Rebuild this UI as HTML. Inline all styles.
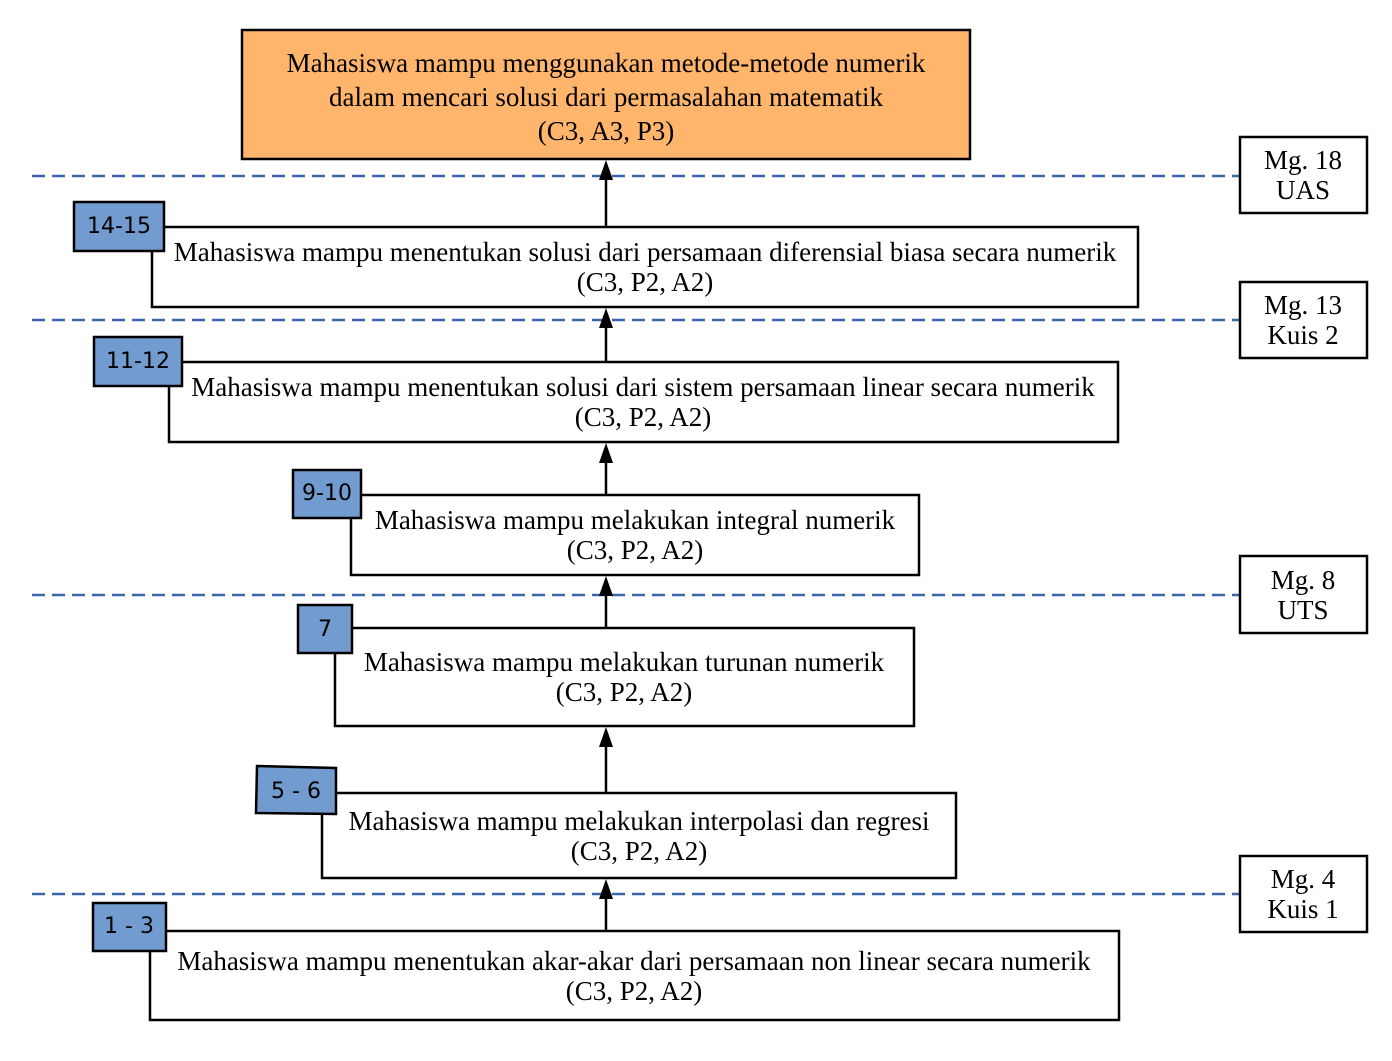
<!DOCTYPE html>
<html><head><meta charset="utf-8"><style>body{margin:0;background:#fff}</style></head><body>
<svg width="1392" height="1056" viewBox="0 0 1392 1056" xmlns="http://www.w3.org/2000/svg">
<g stroke="#3a67a8" stroke-width="2.5" stroke-dasharray="13,7">
<line x1="32" y1="176" x2="1240" y2="176"/><line x1="32" y1="320" x2="1240" y2="320"/>
<line x1="32" y1="595" x2="1240" y2="595"/><line x1="32" y1="894" x2="1240" y2="894"/>
</g>
<g stroke="#000" stroke-width="2.5">
<line x1="606" y1="227" x2="606" y2="175"/><line x1="606" y1="362" x2="606" y2="323"/>
<line x1="606" y1="495" x2="606" y2="458"/><line x1="606" y1="628" x2="606" y2="591"/>
<line x1="606" y1="793" x2="606" y2="742"/><line x1="606" y1="931" x2="606" y2="894"/>
</g>
<g fill="#000">
<path d="M599,180 L613,180 L606,160Z"/><path d="M599,328 L613,328 L606,308Z"/>
<path d="M599,463 L613,463 L606,443Z"/><path d="M599,596 L613,596 L606,576Z"/>
<path d="M599,747 L613,747 L606,727Z"/><path d="M599,899 L613,899 L606,879Z"/>
</g>
<g stroke="#000" stroke-width="2.5" fill="#fff">
<rect x="242" y="30" width="728" height="129" fill="#ffb56b"/>
<rect x="152" y="227" width="986" height="80"/>
<rect x="169" y="362" width="949" height="80"/>
<rect x="351" y="495" width="568" height="80"/>
<rect x="335" y="628" width="579" height="98"/>
<rect x="322" y="793" width="634" height="85"/>
<rect x="150" y="931" width="969" height="89"/>
<rect x="1240" y="137" width="127" height="76"/>
<rect x="1240" y="282" width="127" height="76"/>
<rect x="1240" y="556" width="127" height="77"/>
<rect x="1240" y="856" width="127" height="76"/>
</g>
<g stroke="#000" stroke-width="2.5" fill="#729ccf">
<rect x="74" y="202" width="90" height="49"/>
<rect x="94" y="337" width="88" height="49"/>
<rect x="293" y="470" width="68" height="48"/>
<rect x="298" y="605" width="54" height="48"/>
<path d="M257,766 L336,768 L336,814 L256,813Z"/>
<rect x="93" y="903" width="73" height="48"/>
</g>
<g font-family="Liberation Serif, serif" font-size="27" text-anchor="middle" fill="#000">
<text x="606" y="72">Mahasiswa mampu menggunakan metode-metode numerik</text>
<text x="606" y="106">dalam mencari solusi dari permasalahan matematik</text>
<text x="606" y="140">(C3, A3, P3)</text>
<text x="645" y="261">Mahasiswa mampu menentukan solusi dari persamaan diferensial biasa secara numerik</text>
<text x="645" y="291">(C3, P2, A2)</text>
<text x="643" y="396">Mahasiswa mampu menentukan solusi dari sistem persamaan linear secara numerik</text>
<text x="643" y="426">(C3, P2, A2)</text>
<text x="635" y="529">Mahasiswa mampu melakukan integral numerik</text>
<text x="635" y="559">(C3, P2, A2)</text>
<text x="624" y="671">Mahasiswa mampu melakukan turunan numerik</text>
<text x="624" y="701">(C3, P2, A2)</text>
<text x="639" y="830">Mahasiswa mampu melakukan interpolasi dan regresi</text>
<text x="639" y="860">(C3, P2, A2)</text>
<text x="634" y="970">Mahasiswa mampu menentukan akar-akar dari persamaan non linear secara numerik</text>
<text x="634" y="1000">(C3, P2, A2)</text>
<text x="1303" y="169">Mg. 18</text><text x="1303" y="199">UAS</text>
<text x="1303" y="314">Mg. 13</text><text x="1303" y="344">Kuis 2</text>
<text x="1303" y="589">Mg. 8</text><text x="1303" y="619">UTS</text>
<text x="1303" y="888">Mg. 4</text><text x="1303" y="918">Kuis 1</text>
</g>
<g font-family="DejaVu Sans, Liberation Sans, sans-serif" font-size="22" text-anchor="middle" fill="#000">
<text x="119" y="233">14-15</text>
<text x="138" y="368">11-12</text>
<text x="327" y="500">9-10</text>
<text x="325" y="636">7</text>
<text x="296" y="798">5 - 6</text>
<text x="129" y="933">1 - 3</text>
</g>
</svg>
</body></html>
